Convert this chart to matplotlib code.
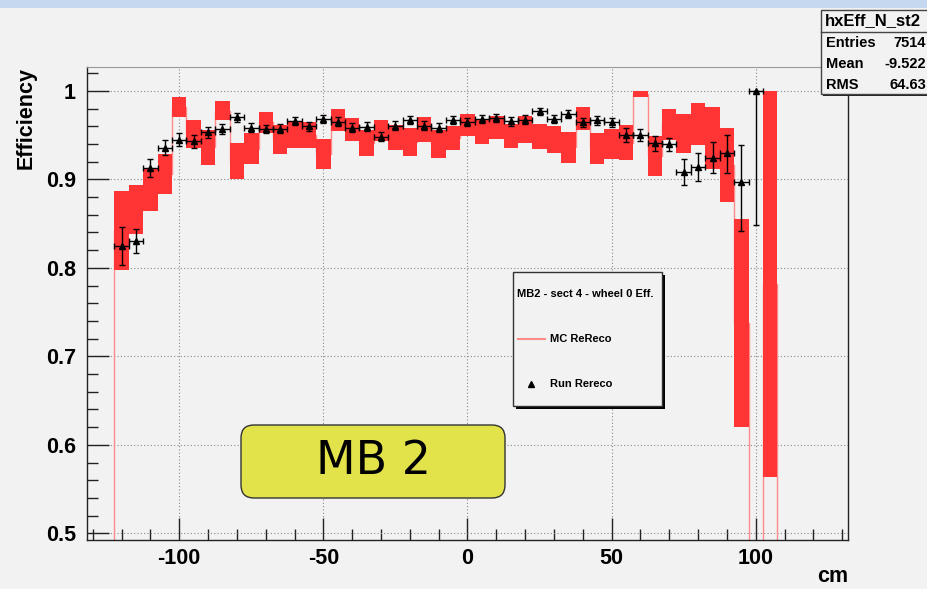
import numpy as np
import matplotlib
matplotlib.use("Agg")
import matplotlib.pyplot as plt
from matplotlib.patches import Rectangle, FancyBboxPatch
from matplotlib.lines import Line2D
from matplotlib.ticker import MultipleLocator, FormatStrFormatter

W, H = 928, 589

# ---- MC ReReco: efficiency per 5 cm bin and its error ----
mc_centers = [-120, -115, -110, -105, -100, -95, -90, -85, -80, -75,
              -70, -65, -60, -55, -50, -45, -40, -35, -30, -25,
              -20, -15, -10, -5, 0, 5, 10, 15, 20, 25,
              30, 35, 40, 45, 50, 55, 60, 65, 70, 75,
              80, 85, 90, 95, 100, 105]
mc_eff = [0.8425, 0.8657, 0.8885, 0.906, 0.9815, 0.9516, 0.9362, 0.9775, 0.9203, 0.9345,
          0.9646, 0.945, 0.9507, 0.9505, 0.929, 0.967, 0.9563, 0.9408, 0.955, 0.9474,
          0.9418, 0.9565, 0.94, 0.9471, 0.9617, 0.9546, 0.9584, 0.9493, 0.9563, 0.9485,
          0.945, 0.9362, 0.9688, 0.9348, 0.9405, 0.9414, 0.9963, 0.9263, 0.9625, 0.9522,
          0.9626, 0.947, 0.916, 0.7375, 0.0, 0.7816]
mc_err = [0.0445, 0.0277, 0.0245, 0.023, 0.0115, 0.016, 0.0194, 0.0106, 0.0203, 0.0175,
          0.012, 0.016, 0.015, 0.0145, 0.017, 0.012, 0.0128, 0.0148, 0.012, 0.0137,
          0.0158, 0.0141, 0.0157, 0.0134, 0.0127, 0.0141, 0.013, 0.0137, 0.0151, 0.0136,
          0.015, 0.0176, 0.0132, 0.0178, 0.017, 0.0197, 0.0037, 0.0227, 0.0175, 0.0222,
          0.0232, 0.035, 0.042, 0.1172, 0.0, 0.2184]

# ---- Run Rereco: measured efficiency with asymmetric errors ----
run_x = [-120, -115, -110, -105, -100, -95, -90, -85, -80, -75,
         -70, -65, -60, -55, -50, -45, -40, -35, -30, -25,
         -20, -15, -10, -5, 0, 5, 10, 15, 20, 25,
         30, 35, 40, 45, 50, 55, 60, 65, 70, 75,
         80, 85, 90, 95, 100]
run_eff = [0.825, 0.8305, 0.913, 0.936, 0.945, 0.943, 0.953, 0.957, 0.970, 0.9586,
           0.957, 0.9574, 0.966, 0.960, 0.968, 0.965, 0.9586, 0.9593, 0.948, 0.9605,
           0.9676, 0.9605, 0.9586, 0.9676, 0.9653, 0.968, 0.969, 0.9657, 0.9676, 0.977,
           0.9687, 0.9736, 0.9646, 0.9668, 0.9646, 0.9507, 0.950, 0.9406, 0.9395, 0.9085,
           0.914, 0.9247, 0.930, 0.897, 1.0]
run_err_low = [0.022, 0.014, 0.010, 0.008, 0.007, 0.0075, 0.0065, 0.006, 0.005, 0.005,
               0.005, 0.005, 0.0045, 0.005, 0.0045, 0.005, 0.005, 0.005, 0.005, 0.005,
               0.0045, 0.005, 0.005, 0.0045, 0.0045, 0.0045, 0.0045, 0.005, 0.005, 0.004,
               0.0045, 0.0045, 0.005, 0.005, 0.005, 0.008, 0.007, 0.008, 0.007, 0.015,
               0.016, 0.017, 0.023, 0.055, 0.152]
run_err_high = [0.021, 0.014, 0.010, 0.008, 0.007, 0.0075, 0.0065, 0.006, 0.005, 0.005,
                0.005, 0.005, 0.0045, 0.005, 0.0045, 0.005, 0.005, 0.005, 0.005, 0.005,
                0.0045, 0.005, 0.005, 0.0045, 0.0045, 0.0045, 0.0045, 0.005, 0.005, 0.004,
                0.0045, 0.0045, 0.005, 0.005, 0.005, 0.007, 0.007, 0.008, 0.007, 0.015,
                0.016, 0.017, 0.020, 0.042, 0.0]

bin_width = 5.0

stats_title = "hxEff_N_st2"
stats_rows = [("Entries", "7514"), ("Mean", "-9.522"), ("RMS", "64.63")]
legend_title = "MB2 - sect 4 - wheel 0 Eff."
legend_mc = "MC ReReco"
legend_run = "Run Rereco"
station_label = "MB 2"

BG = "#f2f2f2"
RED = "#ff3434"
PINK = "#ff8a8a"

plt.rcParams["axes.unicode_minus"] = False
plt.rcParams["font.family"] = ["Liberation Sans", "DejaVu Sans"]

fig = plt.figure(figsize=(W / 100, H / 100), dpi=100, facecolor=BG)


def fx(px):
    return px / W


def fy(py):
    return 1 - py / H


# window title strip
fig.patches.append(Rectangle((0, fy(8)), 1, 8 / H, transform=fig.transFigure,
                             facecolor="#c6d8f0", edgecolor="none", zorder=0))

ax = fig.add_axes([fx(87), fy(540), (848 - 87) / W, (540 - 67) / H])
ax.set_facecolor(BG)
ax.set_xlim(-132, 132)
ax.set_ylim(0.4925, 1.027)

centers = np.array(mc_centers, dtype=float)
eff = np.array(mc_eff)
err = np.array(mc_err)
edges = np.append(centers - bin_width / 2, centers[-1] + bin_width / 2)

# histogram outline at the central value
ax.stairs(eff, edges, baseline=0, color=PINK, linewidth=1.0, zorder=2)
# error band (E2 style)
has_band = err > 0
ax.bar(centers[has_band], 2 * err[has_band], bottom=(eff - err)[has_band],
       width=bin_width, color=RED, edgecolor="none", linewidth=0, zorder=3)

# data points
rx = np.array(run_x, dtype=float)
ax.errorbar(rx, run_eff, yerr=[run_err_low, run_err_high],
            xerr=bin_width / 2, fmt="^", color="black", markersize=4.2,
            elinewidth=1.0, capsize=2.2, capthick=1.0, zorder=4)

# axes cosmetics
ax.set_axisbelow(True)
ax.grid(True, which="major", linestyle=(0, (1, 2)), color="#8a8a8a", linewidth=0.8)
ax.xaxis.set_major_locator(MultipleLocator(50))
ax.xaxis.set_minor_locator(MultipleLocator(10))
ax.yaxis.set_major_locator(MultipleLocator(0.1))
ax.yaxis.set_minor_locator(MultipleLocator(0.02))
ax.yaxis.set_major_formatter(FormatStrFormatter("%g"))
ax.tick_params(which="major", direction="in", length=16, width=1.0, color="#222222")
ax.tick_params(which="minor", direction="in", length=8, width=1.0, color="#222222")
ax.tick_params(axis="both", labelsize=15.5)
ax.tick_params(axis="y", pad=8)
ax.tick_params(axis="x", pad=6)
for lab in ax.get_xticklabels() + ax.get_yticklabels():
    lab.set_fontweight("bold")
for side in ["left", "bottom", "right"]:
    ax.spines[side].set_color("#222222")
    ax.spines[side].set_linewidth(1.0)
ax.spines["top"].set_color("#9a9a9a")

ax.set_ylabel("Efficiency", fontsize=15.5, fontweight="bold", loc="top")
ax.yaxis.set_label_coords(-0.066, 1.0)
ax.set_xlabel("cm", fontsize=15.5, fontweight="bold", loc="right")
ax.xaxis.set_label_coords(1.0, -0.056)

# legend box with shadow
lx0, ly0, lx1, ly1 = 513, 272, 662, 406
fig.patches.append(Rectangle((fx(lx0 + 3), fy(ly1 + 3)), (lx1 - lx0) / W, (ly1 - ly0) / H,
                             transform=fig.transFigure, facecolor="black",
                             edgecolor="none", zorder=5))
fig.patches.append(Rectangle((fx(lx0), fy(ly1)), (lx1 - lx0) / W, (ly1 - ly0) / H,
                             transform=fig.transFigure, facecolor=BG,
                             edgecolor="#333333", linewidth=1.0, zorder=6))
fig.text(fx(517), fy(294), legend_title, fontsize=8, fontweight="bold",
         va="center", ha="left", zorder=7)
fig.lines.append(Line2D([fx(518), fx(545)], [fy(339), fy(339)], transform=fig.transFigure,
                        color=PINK, linewidth=1.5, zorder=7))
fig.text(fx(550), fy(339), legend_mc, fontsize=8, fontweight="bold",
         va="center", ha="left", zorder=7)
fig.lines.append(Line2D([fx(531)], [fy(384)], transform=fig.transFigure, marker="^",
                        color="black", markersize=4, linestyle="none", zorder=7))
fig.text(fx(550), fy(384), legend_run, fontsize=8, fontweight="bold",
         va="center", ha="left", zorder=7)

# stats box (runs on past the right edge)
sx0, sy0, sx1, sy1 = 821, 10, 960, 94
fig.patches.append(Rectangle((fx(sx0 + 2), fy(sy1 + 2)), (sx1 - sx0) / W, (sy1 - sy0) / H,
                             transform=fig.transFigure, facecolor="#222222",
                             edgecolor="none", zorder=5))
fig.patches.append(Rectangle((fx(sx0), fy(sy1)), (sx1 - sx0) / W, (sy1 - sy0) / H,
                             transform=fig.transFigure, facecolor=BG,
                             edgecolor="#444444", linewidth=1.0, zorder=6))
fig.lines.append(Line2D([fx(sx0), fx(sx1)], [fy(32), fy(32)], transform=fig.transFigure,
                        color="#444444", linewidth=1.0, zorder=7))
fig.text(fx(825), fy(21), stats_title, fontsize=12, fontweight="bold",
         va="center", ha="left", zorder=7)
for i, (name, val) in enumerate(stats_rows):
    yy = 43 + 21 * i
    fig.text(fx(826), fy(yy), name, fontsize=10.5, fontweight="bold",
             va="center", ha="left", zorder=7)
    fig.text(fx(926), fy(yy), val, fontsize=10.5, fontweight="bold",
             va="center", ha="right", zorder=7)

# station label
fig.patches.append(FancyBboxPatch((fx(241), fy(498)), (505 - 241) / W, (498 - 425) / H,
                                  boxstyle="round,pad=0,rounding_size=0.014",
                                  transform=fig.transFigure, facecolor="#e2e24a",
                                  edgecolor="#333333", linewidth=1.0, zorder=6,
                                  mutation_aspect=W / H))
fig.text(fx(373), fy(462), station_label, fontsize=33, family="DejaVu Sans",
         va="center", ha="center", zorder=7)

fig.savefig("out.png", dpi=100, facecolor=BG)
